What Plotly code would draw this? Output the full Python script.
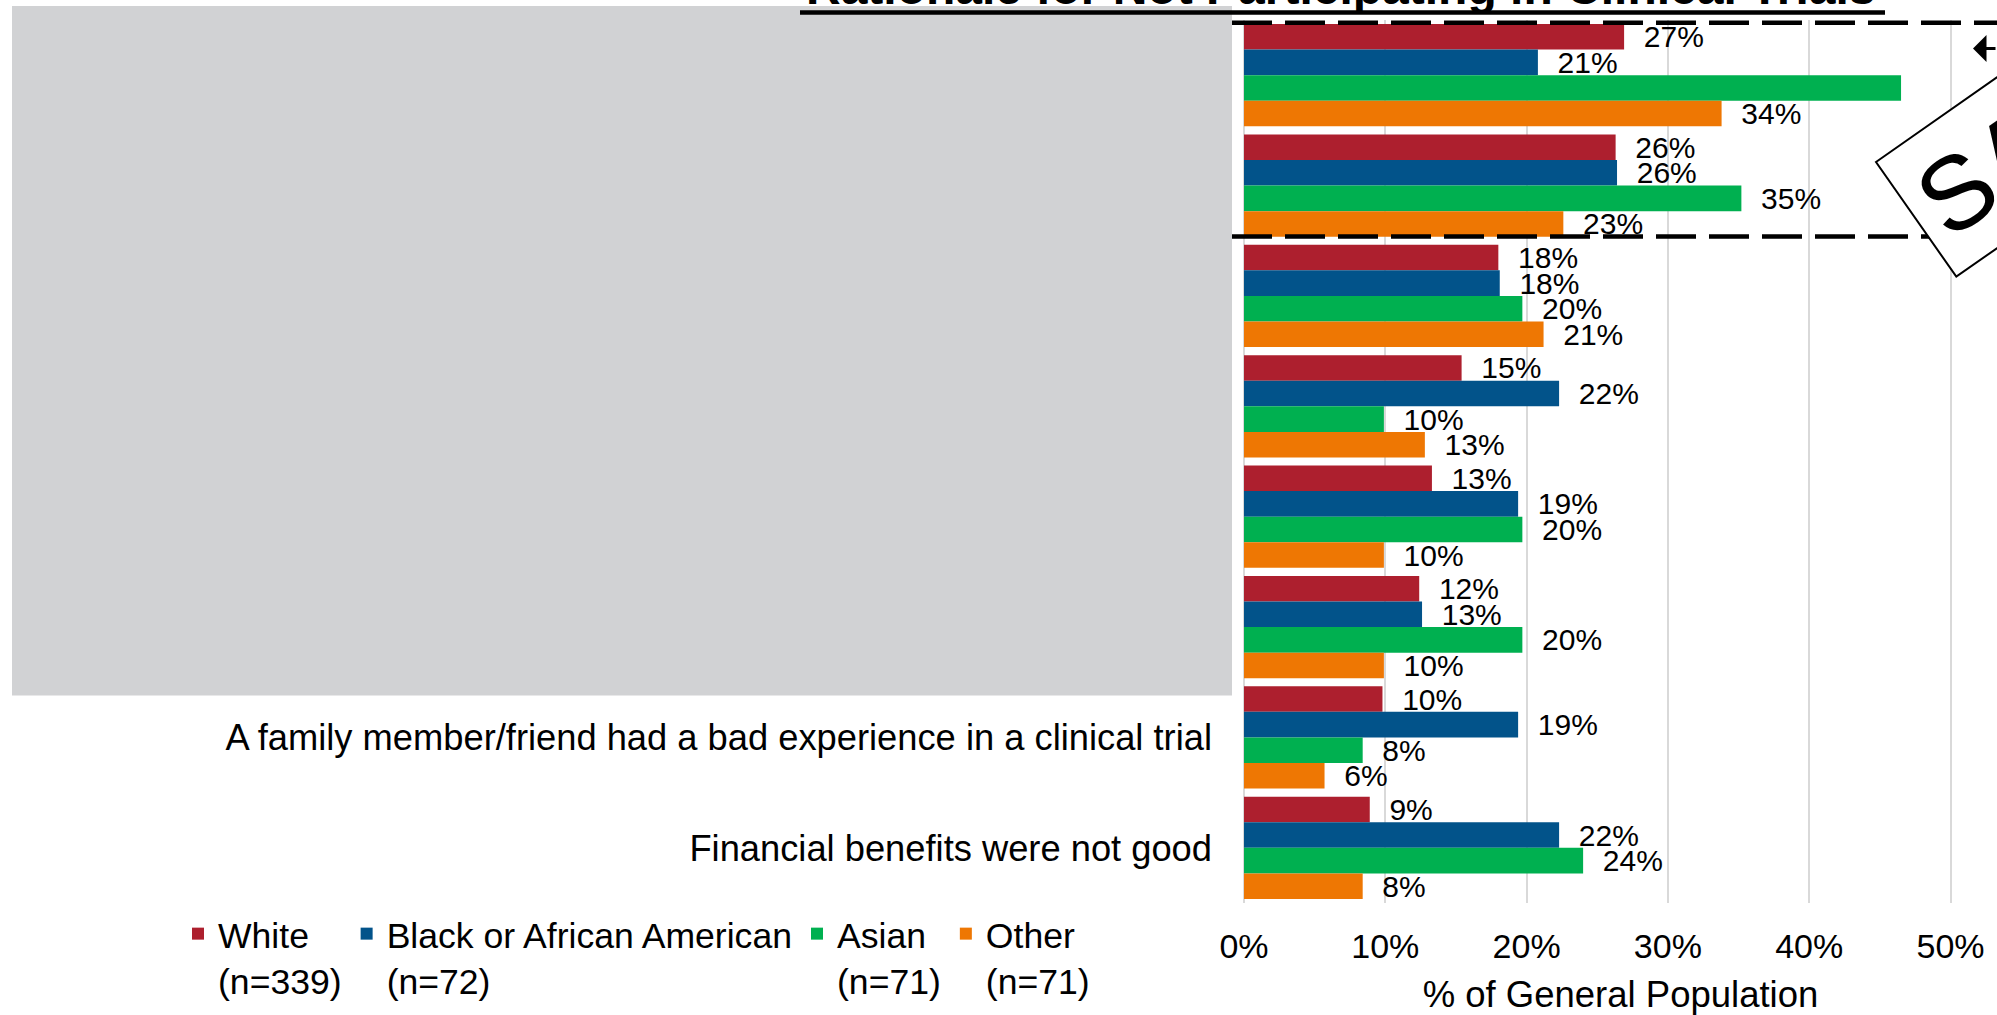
import math
import plotly.graph_objects as go

# ---------------- data ----------------
categories = [
    "[redacted 1]", "[redacted 2]", "[redacted 3]", "[redacted 4]",
    "[redacted 5]", "[redacted 6]",
    "A family member/friend had a bad experience in a clinical trial",
    "Financial benefits were not good",
]
tick_labels = ["", "", "", "", "", "",
               "A family member/friend had a bad experience in a clinical trial",
               "Financial benefits were not good"]

series_names = ["White", "Black or African American", "Asian", "Other"]
series_n = ["(n=339)", "(n=72)", "(n=71)", "(n=71)"]
white = [0.269, 0.263, 0.180, 0.154, 0.133, 0.124, 0.098, 0.089]
black = [0.208, 0.264, 0.181, 0.223, 0.194, 0.126, 0.194, 0.223]
asian = [0.465, 0.352, 0.197, 0.099, 0.197, 0.197, 0.084, 0.240]
other = [0.338, 0.226, 0.212, 0.128, 0.099, 0.099, 0.057, 0.084]
series_values = [white, black, asian, other]
hidden_labels = {("Asian", 0)}   # label not shown in the original

x_tick_vals = [0, 0.1, 0.2, 0.3, 0.4, 0.5]
x_tick_text = ["0%", "10%", "20%", "30%", "40%", "50%"]

title_text = "Rationale for Not Participating in Clinical Trials"
x_title = "% of General Population"
stamp_text = "SA"

# ---------------- style ----------------
colors = ["#AD1F2E", "#02538A", "#00B050", "#EE7703"]
FONT = "Liberation Sans, Arial, sans-serif"
W, H = 1997, 1015
PL, PT, PR, PB = 1244, 20, 0, 112
PW, PH = W - PL - PR, H - PT - PB
XMAX = PW / 1413.0  # 10% = 141.3 px


def px(x):
    return (x - PL) / PW


def py(y):
    return 1 - (y - PT) / PH


fig = go.Figure()
for name, n, vals, col in zip(series_names, series_n, series_values, colors):
    txt = []
    for i, v in enumerate(vals):
        if (name, i) in hidden_labels:
            txt.append("")
        else:
            txt.append("\u00a0\u00a0" + f"{round(v * 100)}%")
    fig.add_trace(go.Bar(
        y=categories, x=vals, orientation="h",
        name=f"{name}<br>{n}",
        marker=dict(color=col, line=dict(width=0)),
        text=txt, textposition="outside", texttemplate="%{text}",
        textfont=dict(size=30, color="#000000", family=FONT),
        constraintext="none", cliponaxis=False,
    ))

fig.update_layout(
    width=W, height=H,
    margin=dict(l=PL, r=PR, t=PT, b=PB, pad=0),
    paper_bgcolor="white", plot_bgcolor="white",
    barmode="group", bargap=0.073, bargroupgap=0,
    font=dict(family=FONT, color="#000000"),
    showlegend=True,
    legend=dict(
        orientation="h", x=px(178), xanchor="left", y=py(904), yanchor="top",
        font=dict(size=35.6, family=FONT), valign="top",
        bgcolor="rgba(0,0,0,0)", traceorder="normal",
    ),
    xaxis=dict(
        range=[0, XMAX], tickvals=x_tick_vals, ticktext=x_tick_text,
        showgrid=True, gridcolor="#D9D9D9", gridwidth=2,
        zeroline=True, zerolinecolor="#D9D9D9", zerolinewidth=2,
        showline=False, ticks="", tickfont=dict(size=34),
        ticklabelstandoff=20,
        title=dict(text=x_title, font=dict(size=36.5), standoff=19),
    ),
    yaxis=dict(
        categoryorder="array", categoryarray=categories,
        tickvals=categories, ticktext=tick_labels,
        autorange="reversed", showgrid=False, zeroline=False, showline=False,
        ticks="", tickfont=dict(size=36.3), ticklabelstandoff=31,
    ),
)

shapes = []
# grey redaction block
shapes.append(dict(type="rect", xref="paper", yref="paper",
                   x0=px(12), x1=px(1232), y0=py(6), y1=py(695.5),
                   fillcolor="#D1D2D4", line=dict(width=0), layer="above"))
# dashed highlight lines
for yy in (22.8, 236.5):
    shapes.append(dict(type="line", xref="paper", yref="paper",
                       x0=px(1232), x1=px(2010), y0=py(yy), y1=py(yy),
                       line=dict(color="black", width=4.5, dash="40px,13px"),
                       layer="above"))
# rotated stamp box
th = math.radians(35)
u = (math.cos(th), -math.sin(th))
v = (math.sin(th), math.cos(th))
L = (1876, 162)
Hb, Lb = 140, 420
c1 = L
c2 = (L[0] + Lb * u[0], L[1] + Lb * u[1])
c3 = (c2[0] + Hb * v[0], c2[1] + Hb * v[1])
c4 = (L[0] + Hb * v[0], L[1] + Hb * v[1])
path = "M {} {} L {} {} L {} {} L {} {} Z".format(
    px(c1[0]), py(c1[1]), px(c2[0]), py(c2[1]),
    px(c3[0]), py(c3[1]), px(c4[0]), py(c4[1]))
shapes.append(dict(type="path", xref="paper", yref="paper", path=path,
                   fillcolor="white", line=dict(color="black", width=2),
                   layer="above"))
# title underline
shapes.append(dict(type="line", xref="paper", yref="paper",
                   x0=px(800), x1=px(1885), y0=py(12.5), y1=py(12.5),
                   line=dict(color="black", width=4.5), layer="above"))
fig.update_layout(shapes=shapes)

F = 104
sc = (1957 + 0.333 * F * u[0], 192 + 0.333 * F * u[1])
annotations = [
    dict(text=f"<b>{title_text}</b>", xref="paper", yref="paper",
         x=px(1341), y=py(16), xanchor="center", yanchor="bottom",
         showarrow=False, font=dict(size=48, family=FONT, color="black")),
    dict(text=stamp_text, xref="paper", yref="paper",
         x=px(sc[0]), y=py(sc[1]), xanchor="center", yanchor="middle",
         textangle=-35, showarrow=False,
         font=dict(size=F, family=FONT, color="black")),
    dict(text="", xref="paper", yref="paper", x=px(1973), y=py(48.5),
         ax=90, ay=0, showarrow=True, arrowhead=1, arrowwidth=3,
         arrowsize=1.5, arrowcolor="black"),
]
fig.update_layout(annotations=annotations)

fig.write_html("out.html")
